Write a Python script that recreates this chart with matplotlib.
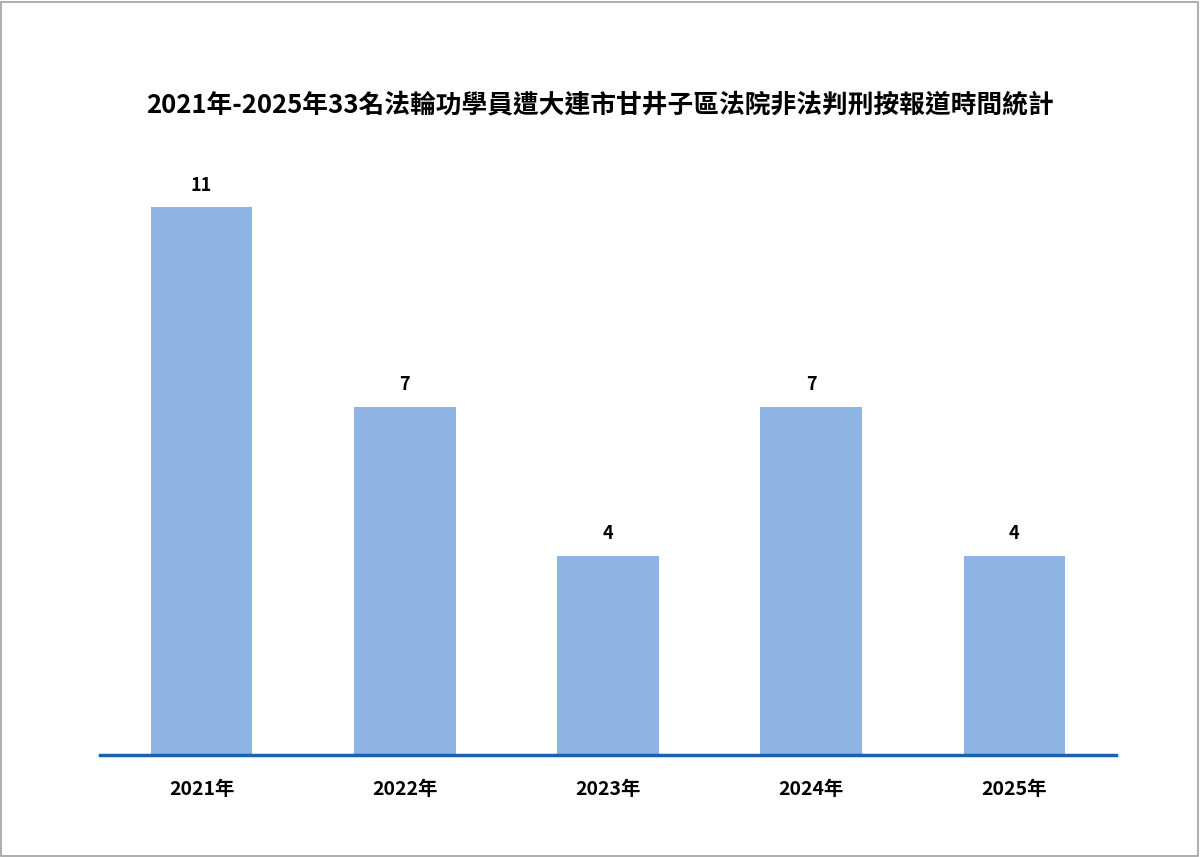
import matplotlib
matplotlib.use("Agg")
import matplotlib.pyplot as plt
from matplotlib.patches import Rectangle

plt.rcParams['font.family'] = ['Noto Sans CJK TC', 'DejaVu Sans']

# data
years = ['2021年', '2022年', '2023年', '2024年', '2025年']
counts = [11, 7, 4, 7, 4]
title = '2021年-2025年33名法輪功學員遭大連市甘井子區法院非法判刑按報道時間統計'

fig = plt.figure(figsize=(12, 8.57), dpi=100)
ax = fig.add_axes([0.0833, 0.119, 0.8467, 0.697])

x = range(len(years))
bars = ax.bar(x, counts, width=0.5, color='#8EB4E3', zorder=2)
for b, v in zip(bars, counts):
    ax.text(b.get_x() + b.get_width() / 2, v + 0.25, str(v),
            ha='center', va='bottom', fontsize=13, fontweight='bold')

ax.set_xlim(-0.5, len(years) - 0.5)
ax.set_ylim(0, 12)
ax.set_xticks(list(x))
ax.set_xticklabels(years, fontsize=14, fontweight='bold')
ax.tick_params(axis='x', length=0, pad=18)
ax.set_yticks([])
for s in ['top', 'right', 'left']:
    ax.spines[s].set_visible(False)
ax.spines['bottom'].set_color('#1F5FAF')
ax.spines['bottom'].set_linewidth(2.5)
ax.spines['bottom'].set_zorder(3)

fig.text(0.5, 1 - 105 / 857, title, ha='center', va='center',
         fontsize=18.5, fontweight='bold')

# outer frame
fig.patches.append(Rectangle((0.001, 0.001), 0.997, 0.997, transform=fig.transFigure,
                             fill=False, edgecolor='#A0A0A0', linewidth=1.2))

fig.savefig('out.png', dpi=100)
